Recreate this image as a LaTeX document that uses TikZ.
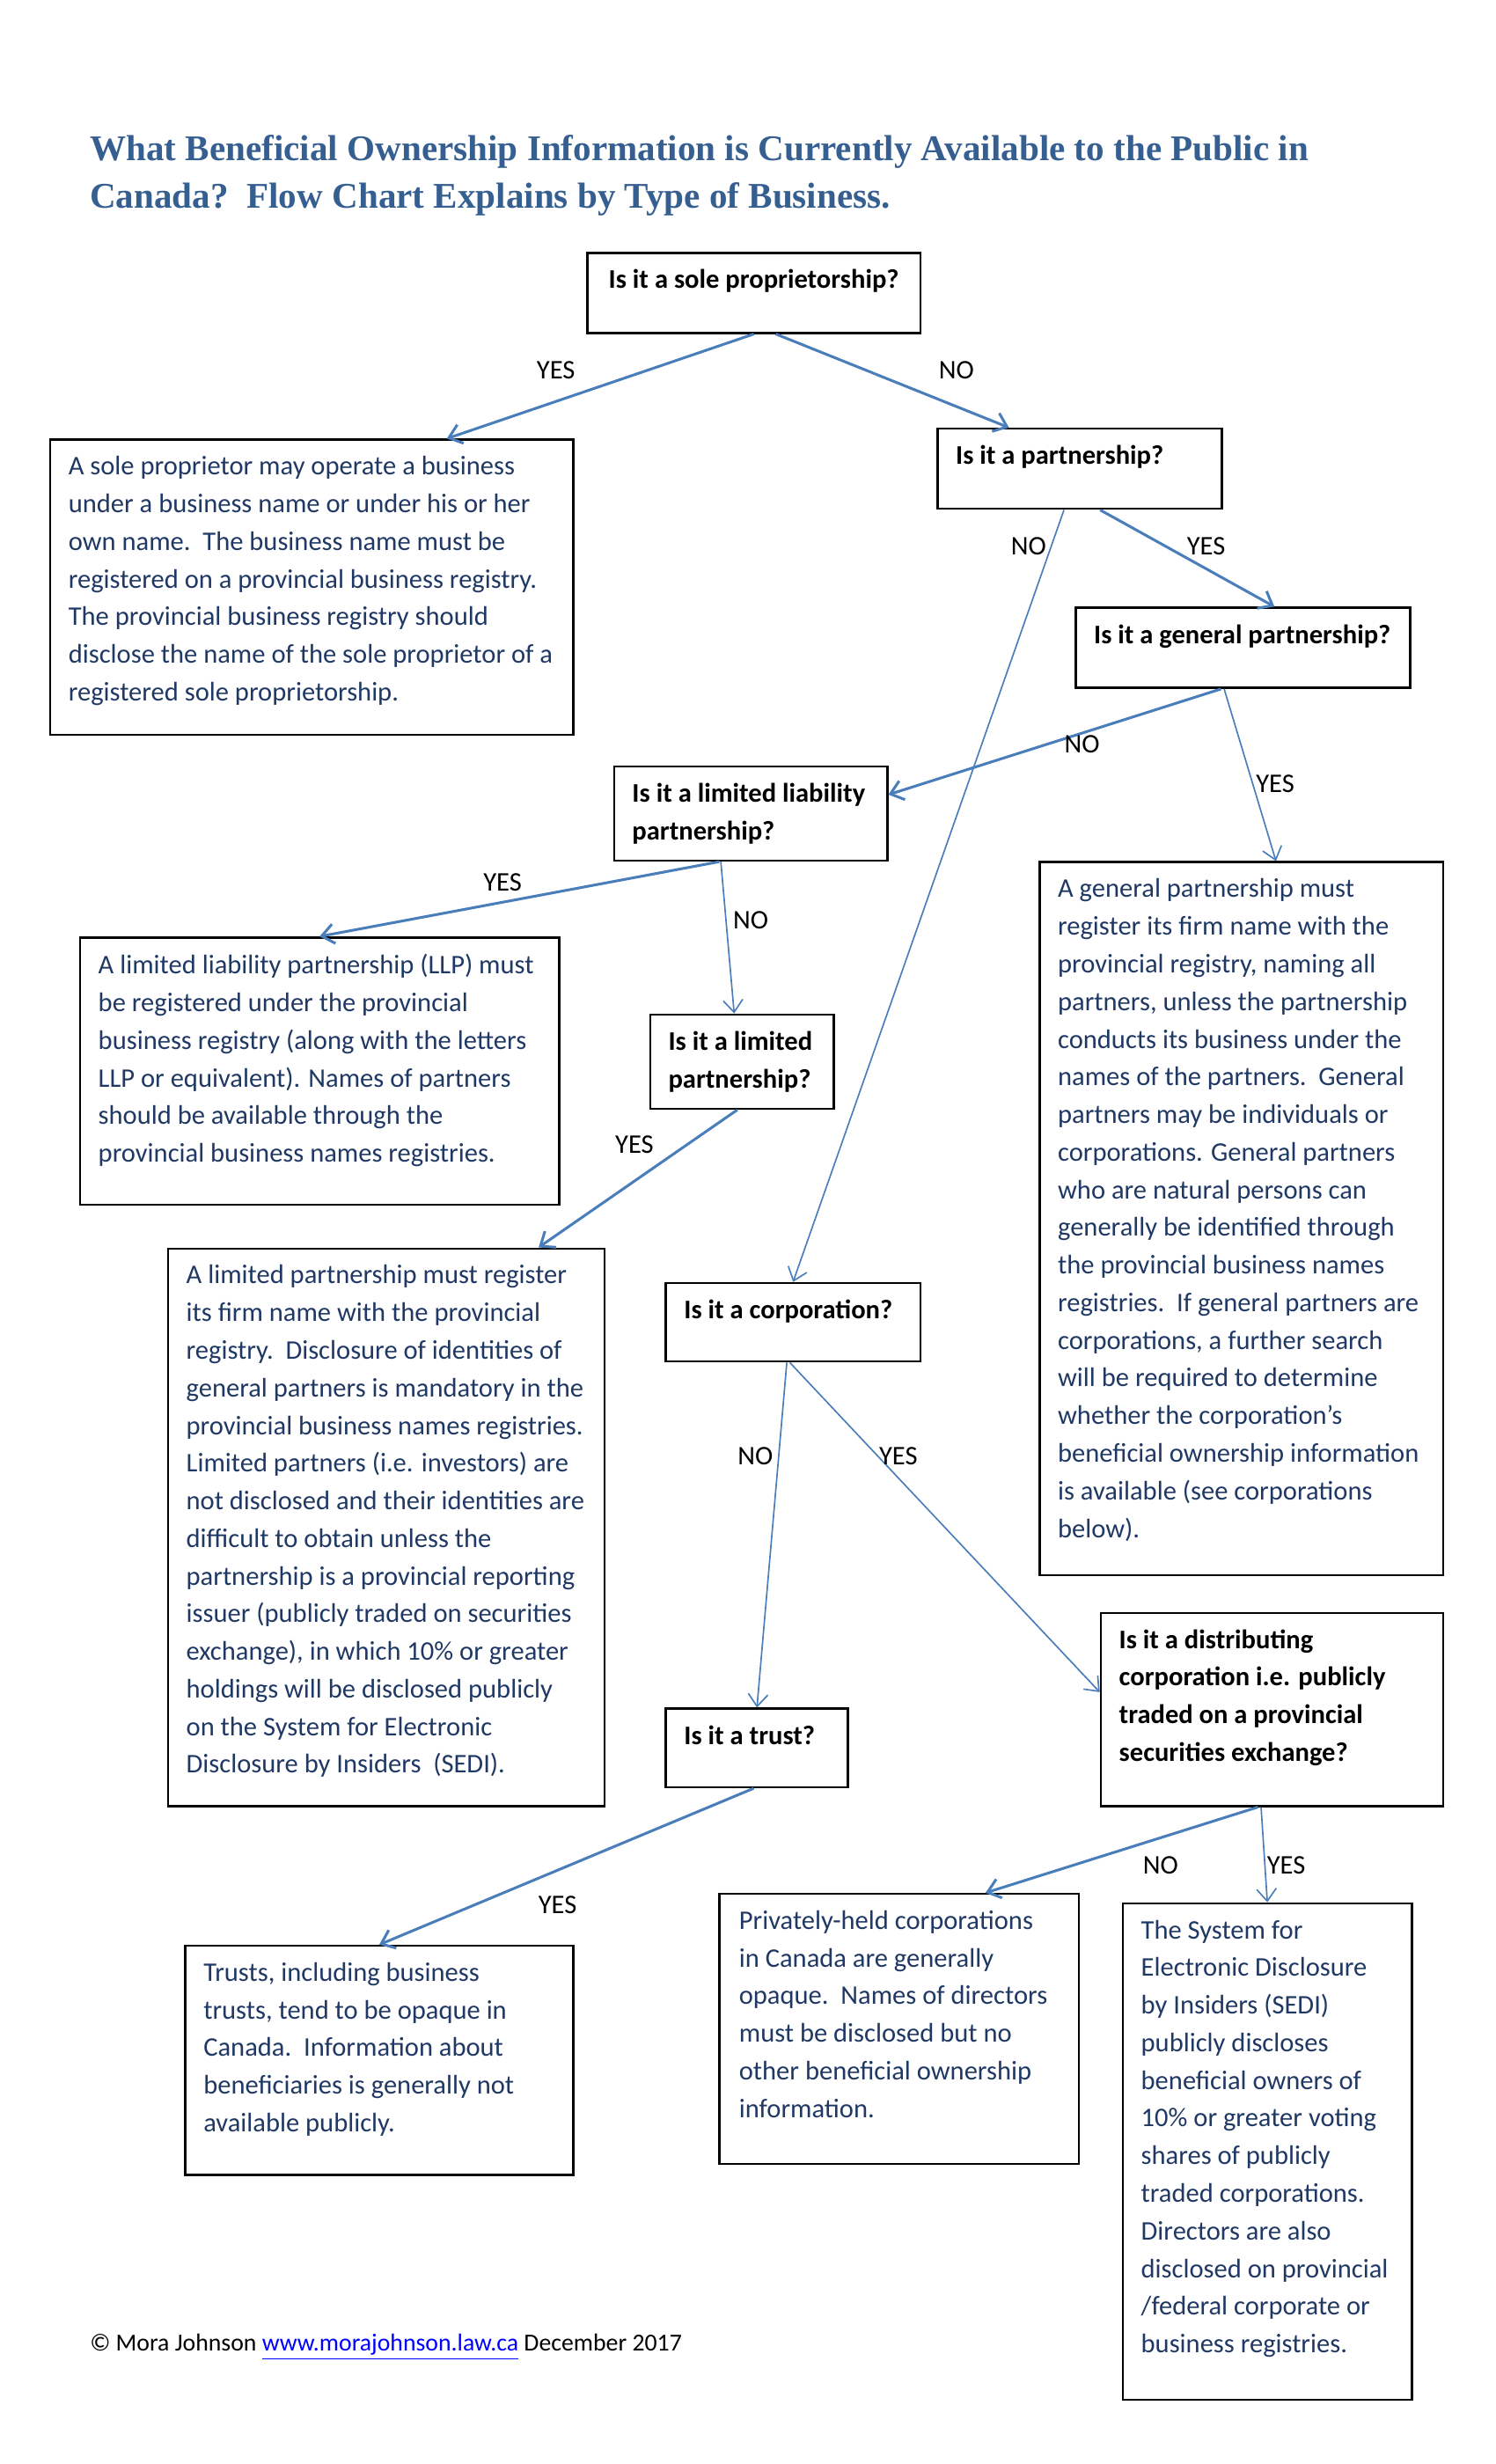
\documentclass[tikz,border=0pt]{standalone}
\usepackage{fontspec}
\setmainfont{Carlito}
\newfontfamily\titlefont{Liberation Serif}
\usetikzlibrary{arrows.meta,fit}
\definecolor{titleblue}{HTML}{365F91}
\definecolor{textblue}{HTML}{1F3864}
\definecolor{arrowblue}{HTML}{4A7EBB}
\definecolor{linkblue}{HTML}{0000FF}

\begin{document}
\begin{tikzpicture}[x=0.6425pt,y=-0.6425pt,
  box/.style={draw=black,line width=0.9pt,inner sep=0pt},
  qtext/.style={anchor=north west,inner sep=0pt,align=left,font=\bfseries\fontsize{11}{15.4}\selectfont},
  btext/.style={anchor=north west,inner sep=0pt,align=left,text=textblue,font=\fontsize{11}{15.4}\selectfont},
  lbl/.style={inner sep=0pt,font=\fontsize{11}{13}\selectfont},
  arr/.style={draw=arrowblue,line width=0.6pt,-{Straight Barb[length=5pt,width=8pt]}},
  arrthick/.style={arr,line width=1.1pt}]
\useasboundingbox (0,0) rectangle (952.5,1569);

% title
\node[anchor=base west,inner sep=0pt,text=titleblue,font=\titlefont\bfseries\fontsize{14.8}{19.4}\selectfont] (title1) at (57,102.5) {What Beneficial Ownership Information is Currently Available to the Public in};
\node[anchor=base west,inner sep=0pt,text=titleblue,font=\titlefont\bfseries\fontsize{14.8}{19.4}\selectfont] (title2) at (57,132.6) {Canada?\ \ Flow Chart Explains by Type of Business.};

% questions
\node[box,fit={(374,161) (586,212)}] (qsole) {};
\node[qtext] (qsoletxt) at ([shift={(14,11)}]qsole.north west) {Is it a sole proprietorship?};
\node[box,fit={(597,273) (778,324)}] (qpart) {};
\node[qtext] (qparttxt) at ([shift={(12,11)}]qpart.north west) {Is it a partnership?};
\node[box,fit={(685,387) (898,438)}] (qgen) {};
\node[qtext] (qgentxt) at ([shift={(12,11)}]qgen.north west) {Is it a general partnership?};
\node[box,fit={(391,488) (565,548)}] (qllp) {};
\node[qtext] (qllptxt) at ([shift={(12,11)}]qllp.north west) {Is it a limited liability\\partnership?};
\node[box,fit={(414,646) (531,706)}] (qlp) {};
\node[qtext] (qlptxt) at ([shift={(12,11)}]qlp.north west) {Is it a limited\\partnership?};
\node[box,fit={(424,817) (586,867)}] (qcorp) {};
\node[qtext] (qcorptxt) at ([shift={(12,11)}]qcorp.north west) {Is it a corporation?};
\node[box,fit={(424,1088) (540,1138)}] (qtrust) {};
\node[qtext] (qtrusttxt) at ([shift={(12,11)}]qtrust.north west) {Is it a trust?};
\node[box,fit={(701,1027) (919,1150)}] (qdist) {};
\node[qtext] (qdisttxt) at ([shift={(12,11)}]qdist.north west) {Is it a distributing\\corporation i.e. publicly\\traded on a provincial\\securities exchange?};

% answers
\node[box,fit={(32,280) (365,468)}] (tsole) {};
\node[btext] (tsoletxt) at ([shift={(12,11)}]tsole.north west) {A sole proprietor may operate a business\\under a business name or under his or her\\own name.\ \ The business name must be\\registered on a provincial business registry.\\The provincial business registry should\\disclose the name of the sole proprietor of a\\registered sole proprietorship.};
\node[box,fit={(662,549) (919,1003)}] (tgen) {};
\node[btext] (tgentxt) at ([shift={(12,11)}]tgen.north west) {A general partnership must\\register its firm name with the\\provincial registry, naming all\\partners, unless the partnership\\conducts its business under the\\names of the partners.\ \ General\\partners may be individuals or\\corporations. General partners\\who are natural persons can\\generally be identified through\\the provincial business names\\registries.\ \ If general partners are\\corporations, a further search\\will be required to determine\\whether the corporation’s\\beneficial ownership information\\is available (see corporations\\below).};
\node[box,fit={(51,597) (356,767)}] (tllp) {};
\node[btext] (tllptxt) at ([shift={(12,11)}]tllp.north west) {A limited liability partnership (LLP) must\\be registered under the provincial\\business registry (along with the letters\\LLP or equivalent). Names of partners\\should be available through the\\provincial business names registries.};
\node[box,fit={(107,795) (385,1150)}] (tlp) {};
\node[btext] (tlptxt) at ([shift={(12,11)}]tlp.north west) {A limited partnership must register\\its firm name with the provincial\\registry.\ \ Disclosure of identities of\\general partners is mandatory in the\\provincial business names registries.\\Limited partners (i.e. investors) are\\not disclosed and their identities are\\difficult to obtain unless the\\partnership is a provincial reporting\\issuer (publicly traded on securities\\exchange), in which 10\% or greater\\holdings will be disclosed publicly\\on the System for Electronic\\Disclosure by Insiders\ \ (SEDI).};
\node[box,fit={(118,1239) (365,1385)}] (ttrust) {};
\node[btext] (ttrusttxt) at ([shift={(12,11)}]ttrust.north west) {Trusts, including business\\trusts, tend to be opaque in\\Canada.\ \ Information about\\beneficiaries is generally not\\available publicly.};
\node[box,fit={(458,1206) (687,1378)}] (tpriv) {};
\node[btext] (tprivtxt) at ([shift={(13,11)}]tpriv.north west) {Privately-held corporations\\in Canada are generally\\opaque.\ \ Names of directors\\must be disclosed but no\\other beneficial ownership\\information.};
\node[box,fit={(715,1212) (899,1528)}] (tsedi) {};
\node[btext] (tseditxt) at ([shift={(12,11)}]tsedi.north west) {The System for\\Electronic Disclosure\\by Insiders (SEDI)\\publicly discloses\\beneficial owners of\\10\% or greater voting\\shares of publicly\\traded corporations.\\Directors are also\\disclosed on provincial\\/federal corporate or\\business registries.};

% connectors
\draw[arrthick] (qsole.south) -- ([shift={(86,0)}]tsole.north);
\draw[arrthick] ([shift={(14,0)}]qsole.south) -- ([shift={(-45,0)}]qpart.north);
\draw[arrthick] ([shift={(13,0)}]qpart.south) -- ([shift={(20,0)}]qgen.north);
\draw[arr] ([shift={(-10,0)}]qpart.south) -- (qcorp.north);
\draw[arrthick] ([shift={(-14,0)}]qgen.south) -- ([shift={(0,-12)}]qllp.east);
\draw[arr] ([shift={(-12,0)}]qgen.south) -- ([shift={(22,0)}]tgen.north);
\draw[arrthick] ([shift={(-20,0)}]qllp.south) -- (tllp.north);
\draw[arr] ([shift={(-19,0)}]qllp.south) -- ([shift={(-5,0)}]qlp.north);
\draw[arrthick] ([shift={(-3,0)}]qlp.south) -- ([shift={(97,0)}]tlp.north);
\draw[arr] ([shift={(-4,0)}]qcorp.south) -- (qtrust.north);
\draw[arr] ([shift={(-2,0)}]qcorp.south) -- ([shift={(0,-11)}]qdist.west);
\draw[arrthick] ([shift={(-2,0)}]qtrust.south) -- (ttrust.north);
\draw[arrthick] ([shift={(-9,0)}]qdist.south) -- ([shift={(55,0)}]tpriv.north);
\draw[arr] ([shift={(-7,0)}]qdist.south) -- (tsedi.north);

% labels
\node[lbl] (yes1) at (354,236) {YES};
\node[lbl] (no1) at (609,236) {NO};
\node[lbl] (no2) at (655,348) {NO};
\node[lbl] (yes2) at (768,348) {YES};
\node[lbl] (no3) at (689,474) {NO};
\node[lbl] (yes3) at (812,499) {YES};
\node[lbl] (yes4) at (320,562) {YES};
\node[lbl] (no4) at (478,586) {NO};
\node[lbl] (yes5) at (404,729) {YES};
\node[lbl] (no5) at (481,927) {NO};
\node[lbl] (yes6) at (572,927) {YES};
\node[lbl] (yes7) at (355,1213) {YES};
\node[lbl] (no6) at (739,1188) {NO};
\node[lbl] (yes8) at (819,1188) {YES};

% footer
\node[anchor=base west,inner sep=0pt,font=\fontsize{10}{12}\selectfont] (credit) at (57,1497) {© Mora Johnson \textcolor{linkblue}{\underline{www.morajohnson.law.ca}} December 2017};
\end{tikzpicture}
\end{document}
